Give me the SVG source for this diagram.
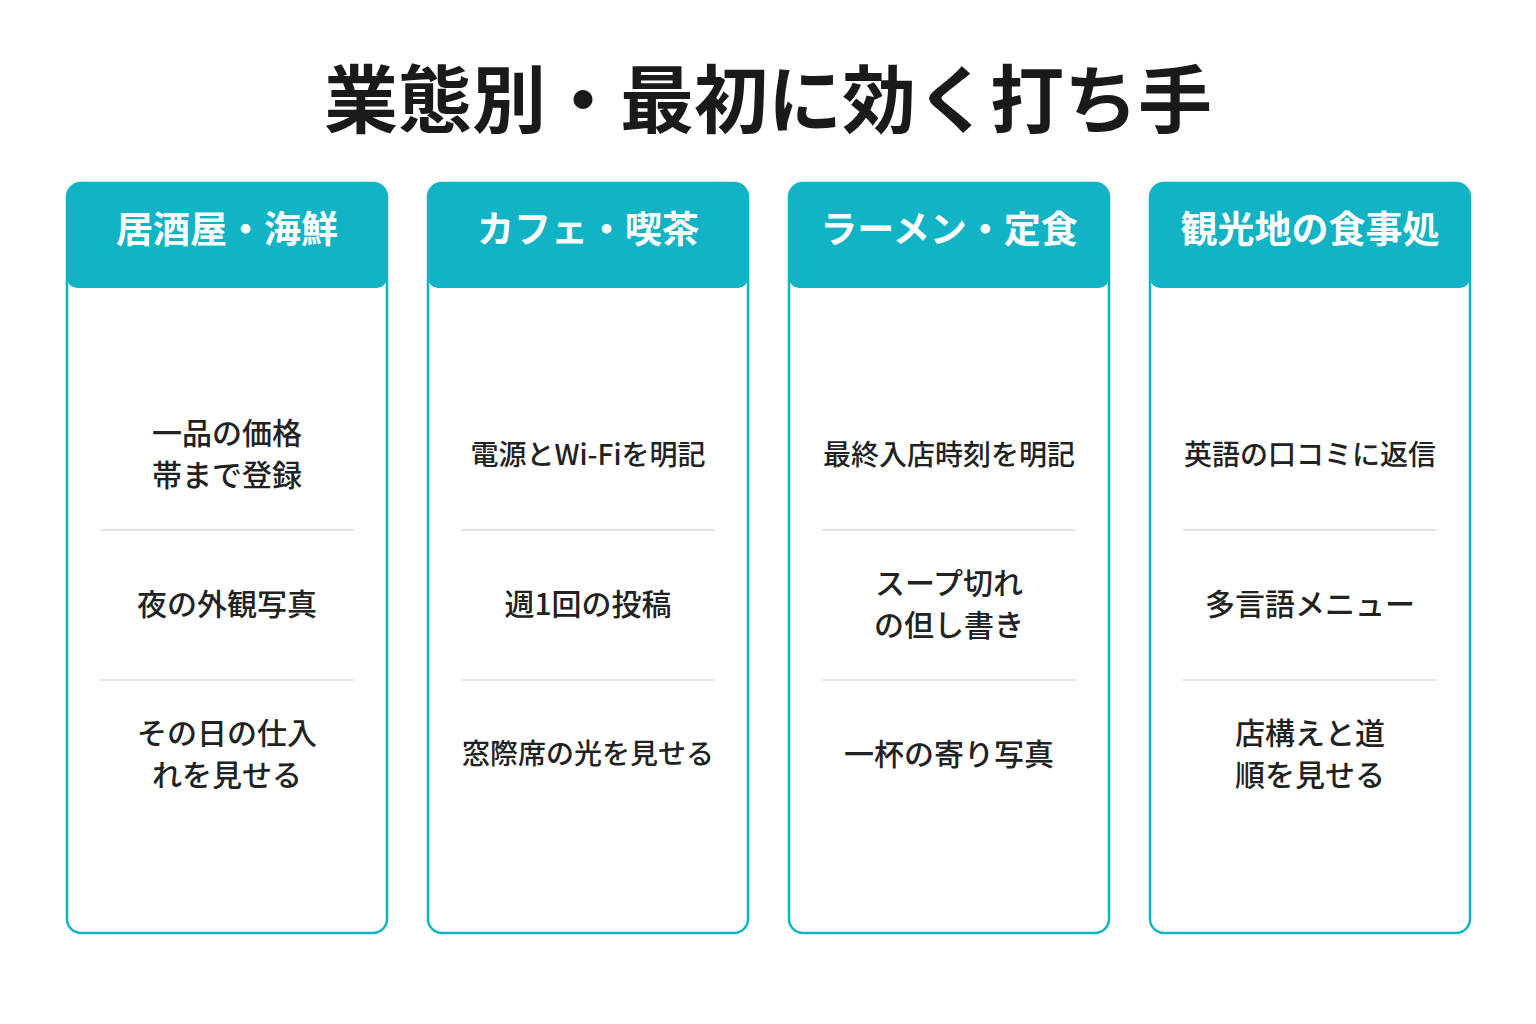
<svg xmlns="http://www.w3.org/2000/svg" width="1536" height="1024" viewBox="0 0 1536 1024">
<style>
text{font-family:"Noto Sans CJK JP","Noto Sans",sans-serif;text-anchor:middle;fill:#222}
.t{font-size:74px;font-weight:700;fill:#1a1a1a}
.h{font-size:37px;font-weight:700;fill:#fff}
.i{font-size:30px;font-weight:500}
.s{font-size:28px;font-weight:500}
.card{fill:#fff;stroke:#13B3C6;stroke-width:2.5}
.hd{fill:#13B3C6}
.sep{stroke:#ddd;stroke-width:1.5}
</style>
<rect width="1536" height="1024" fill="#fff"/>
<text class="t" x="768" y="127">業態別・最初に効く打ち手</text>
<g id="c1">
<rect class="card" x="67" y="183" width="320" height="750" rx="14"/>
<path class="hd" d="M67,197a14,14 0 0 1 14,-14h292a14,14 0 0 1 14,14v81a10,10 0 0 1 -10,10h-300a10,10 0 0 1 -10,-10z"/>
<text class="h" x="227" y="243">居酒屋・海鮮</text>
<line class="sep" x1="100" y1="530" x2="354" y2="530"/><line class="sep" x1="100" y1="680" x2="354" y2="680"/>
<text class="i" x="227" y="444">一品の価格</text><text class="i" x="227" y="486">帯まで登録</text>
<text class="i" x="227" y="615">夜の外観写真</text>
<text class="i" x="227" y="744">その日の仕入</text><text class="i" x="227" y="786">れを見せる</text>
</g>
<g id="c2">
<rect class="card" x="428" y="183" width="320" height="750" rx="14"/>
<path class="hd" d="M428,197a14,14 0 0 1 14,-14h292a14,14 0 0 1 14,14v81a10,10 0 0 1 -10,10h-300a10,10 0 0 1 -10,-10z"/>
<text class="h" x="588" y="243">カフェ・喫茶</text>
<line class="sep" x1="461" y1="530" x2="715" y2="530"/><line class="sep" x1="461" y1="680" x2="715" y2="680"/>
<text class="s" x="588" y="465">電源とWi-Fiを明記</text>
<text class="i" x="588" y="615">週1回の投稿</text>
<text class="s" x="588" y="764">窓際席の光を見せる</text>
</g>
<g id="c3">
<rect class="card" x="789" y="183" width="320" height="750" rx="14"/>
<path class="hd" d="M789,197a14,14 0 0 1 14,-14h292a14,14 0 0 1 14,14v81a10,10 0 0 1 -10,10h-300a10,10 0 0 1 -10,-10z"/>
<text class="h" x="949" y="243">ラーメン・定食</text>
<line class="sep" x1="822" y1="530" x2="1076" y2="530"/><line class="sep" x1="822" y1="680" x2="1076" y2="680"/>
<text class="s" x="949" y="465">最終入店時刻を明記</text>
<text class="i" x="949" y="594">スープ切れ</text><text class="i" x="949" y="636">の但し書き</text>
<text class="i" x="949" y="765">一杯の寄り写真</text>
</g>
<g id="c4">
<rect class="card" x="1150" y="183" width="320" height="750" rx="14"/>
<path class="hd" d="M1150,197a14,14 0 0 1 14,-14h292a14,14 0 0 1 14,14v81a10,10 0 0 1 -10,10h-300a10,10 0 0 1 -10,-10z"/>
<text class="h" x="1310" y="243">観光地の食事処</text>
<line class="sep" x1="1183" y1="530" x2="1437" y2="530"/><line class="sep" x1="1183" y1="680" x2="1437" y2="680"/>
<text class="s" x="1310" y="465">英語の口コミに返信</text>
<text class="i" x="1310" y="615">多言語メニュー</text>
<text class="i" x="1310" y="744">店構えと道</text><text class="i" x="1310" y="786">順を見せる</text>
</g>
</svg>
